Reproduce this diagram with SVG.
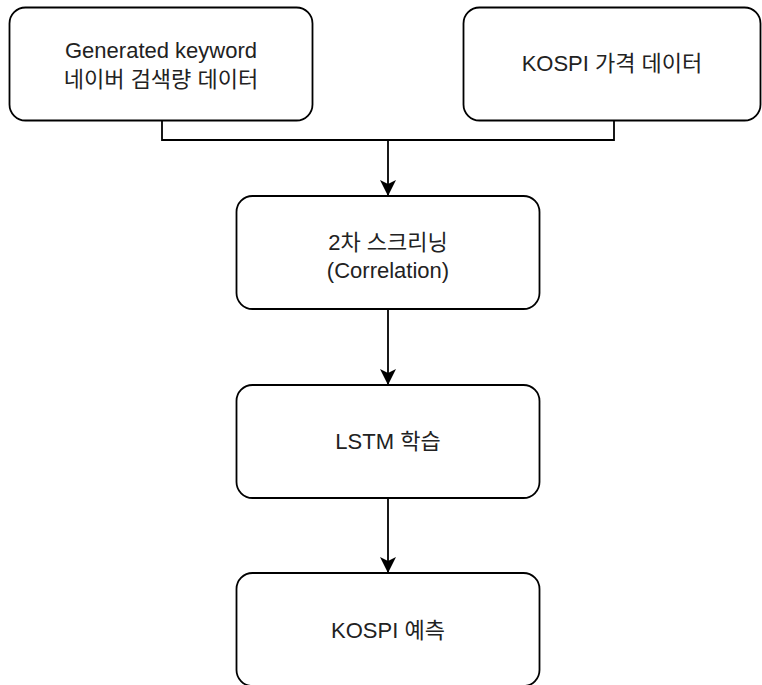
<svg xmlns="http://www.w3.org/2000/svg" width="762" height="685" viewBox="0 0 762 685">
<style>
.box{fill:#fff;stroke:#000;stroke-width:1.8}
.t{font-family:"Liberation Sans","Noto Sans CJK KR",Arial,sans-serif;font-size:22px;fill:#222;text-anchor:middle}
.c{fill:none;stroke:#000;stroke-width:1.8}
</style>
<defs>
<marker id="ah" markerUnits="userSpaceOnUse" markerWidth="18" markerHeight="18" refX="16" refY="8" orient="auto">
<path d="M0,0 L16,8 L0,16 L4,8 Z" fill="#000"/>
</marker>
</defs>
<rect width="762" height="685" fill="#fff"/>
<g id="connectors">
<path class="c" d="M162,121 V140 H614 V121"/>
<path class="c" d="M388,140 V196" marker-end="url(#ah)"/>
<path class="c" d="M388,309 V385" marker-end="url(#ah)"/>
<path class="c" d="M388,498 V573" marker-end="url(#ah)"/>
</g>
<g id="n1">
<rect class="box" x="9.5" y="7.5" width="303" height="113" rx="16"/>
<text class="t" x="161" y="58">Generated keyword</text>
<text class="t" x="161" y="87">네이버 검색량 데이터</text>
</g>
<g id="n2">
<rect class="box" x="463.5" y="7.5" width="297" height="113" rx="16"/>
<text class="t" x="612" y="71">KOSPI 가격 데이터</text>
</g>
<g id="n3">
<rect class="box" x="236.5" y="196" width="303" height="113" rx="16"/>
<text class="t" x="388" y="250">2차 스크리닝</text>
<text class="t" x="388" y="278">(Correlation)</text>
</g>
<g id="n4">
<rect class="box" x="236.5" y="385" width="303" height="113" rx="16"/>
<text class="t" x="388" y="449">LSTM 학습</text>
</g>
<g id="n5">
<rect class="box" x="236.5" y="573" width="303" height="113" rx="16"/>
<text class="t" x="388" y="638">KOSPI 예측</text>
</g>
</svg>
